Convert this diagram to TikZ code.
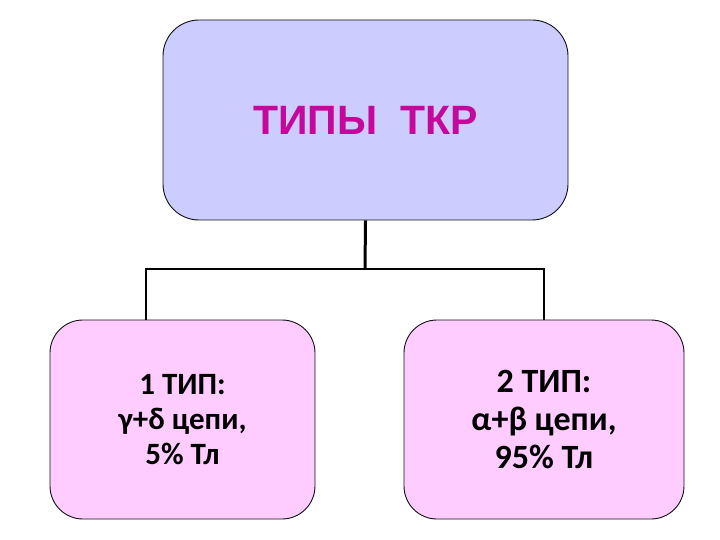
\documentclass[tikz,border=0pt]{standalone}
\usepackage{fontspec}
\setmainfont{Carlito}
\newfontfamily\arialfont{Liberation Sans}
\definecolor{lavfill}{HTML}{CCCCFF}
\definecolor{pinkfill}{HTML}{FFCCFF}
\definecolor{magtext}{HTML}{C4089C}
\definecolor{edgec}{HTML}{101010}
\begin{document}
\begin{tikzpicture}[x=1pt,y=-1pt,
  boxbase/.style={draw=edgec, line width=0.9pt, inner sep=0pt, align=center},
  topbox/.style={boxbase, fill=lavfill, rounded corners=36pt, text=magtext,
     font=\arialfont\bfseries\fontsize{41}{46}\selectfont},
  typebox/.style={boxbase, fill=pinkfill, rounded corners=33pt, text=black},
  thinline/.style={draw=black, line width=1.3pt},
  thickline/.style={draw=black, line width=3pt}]
\useasboundingbox (0,0) rectangle (720,540);
\node[topbox, minimum width=405pt, minimum height=200pt] (top) at (365.5,120) {ТИПЫ\ \ ТКР};
\node[typebox, minimum width=265pt, minimum height=199pt,
      font=\bfseries\fontsize{31}{35}\selectfont] (b1) at (182.5,419.5)
      {1 ТИП:\\γ+δ цепи,\\5\% Тл};
\node[typebox, minimum width=280pt, minimum height=199pt,
      font=\bfseries\fontsize{34}{38}\selectfont] (b2) at (544,419.5)
      {2 ТИП:\\α+β цепи,\\95\% Тл};
\coordinate (j) at (365,269);
\coordinate (l) at (146,269);
\coordinate (r) at (544,269);
\draw[thickline] (top.south) -- (j);
\draw[thinline] (l |- b1.north) -- (l) -- (r) -- (b2.north);
\end{tikzpicture}
\end{document}
